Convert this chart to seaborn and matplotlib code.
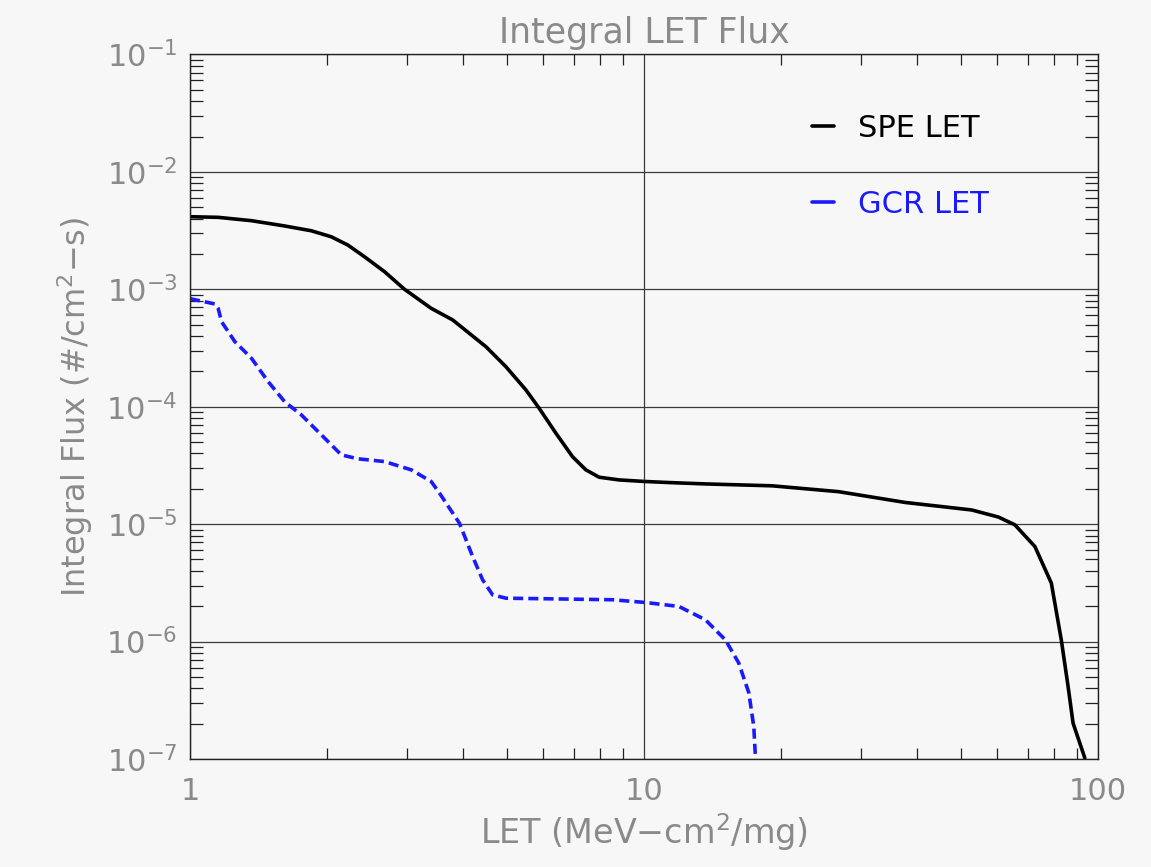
import numpy as np
import pandas as pd
import seaborn as sns
import matplotlib.pyplot as plt
from matplotlib.ticker import FixedLocator, NullFormatter, LogFormatterSciNotation
from matplotlib.lines import Line2D

# ---- data ----
spe_let = [1.0, 1.154, 1.366, 1.618, 1.851, 2.048, 2.228, 2.425, 2.684, 2.969, 3.398,
           3.791, 4.488, 4.966, 5.495, 5.877, 6.397, 6.957, 7.446, 7.964, 8.812, 10.0,
           11.35, 13.66, 19.14, 26.83, 37.6, 52.7, 60.3, 65.6, 72.6, 78.9, 83.0, 85.9,
           88.1, 93.5]
spe_flux = [4.15e-3, 4.1e-3, 3.84e-3, 3.46e-3, 3.15e-3, 2.80e-3, 2.38e-3, 1.89e-3,
            1.41e-3, 1.0e-3, 6.89e-4, 5.48e-4, 3.24e-4, 2.19e-4, 1.39e-4, 9.7e-5, 5.95e-5,
            3.76e-5, 2.90e-5, 2.51e-5, 2.38e-5, 2.31e-5, 2.26e-5, 2.20e-5, 2.12e-5, 1.89e-5,
            1.53e-5, 1.32e-5, 1.15e-5, 9.86e-6, 6.44e-6, 3.15e-6, 1.03e-6, 4.15e-7, 2.02e-7,
            1.02e-7]

gcr_let = [1.0, 1.135, 1.154, 1.174, 1.256, 1.366, 1.486, 1.618, 1.760, 1.980, 2.155,
           2.344, 2.684, 3.072, 3.398, 3.544, 3.922, 4.194, 4.411, 4.641, 4.966, 6.288,
           8.52, 10.09, 11.94, 13.66, 15.12, 16.17, 17.02, 17.45, 17.60]
gcr_flux = [8.32e-4, 7.50e-4, 6.89e-4, 5.30e-4, 3.58e-4, 2.59e-4, 1.64e-4, 1.10e-4,
            8.51e-5, 5.40e-5, 3.89e-5, 3.60e-5, 3.41e-5, 2.90e-5, 2.31e-5, 1.84e-5,
            1.02e-5, 5.30e-6, 3.36e-6, 2.50e-6, 2.34e-6, 2.31e-6, 2.27e-6, 2.15e-6,
            1.99e-6, 1.53e-6, 1.03e-6, 6.56e-7, 3.65e-7, 1.89e-7, 1.02e-7]

series_names = ["SPE LET", "GCR LET"]
x_ticks = [1, 10, 100]
x_ticklabels = ["1", "10", "100"]
y_decades = [-7, -6, -5, -4, -3, -2, -1]

df = pd.concat([
    pd.DataFrame({"LET": spe_let, "flux": spe_flux, "series": series_names[0]}),
    pd.DataFrame({"LET": gcr_let, "flux": gcr_flux, "series": series_names[1]}),
], ignore_index=True)

# ---- style ----
sns.set_theme(style="ticks")
plt.rcParams["font.family"] = ["DejaVu Sans"]
plt.rcParams["mathtext.fontset"] = "dejavusans"
bg = "#f7f7f7"
txt = "#8a8a8a"

fig = plt.figure(figsize=(11.51, 8.67), dpi=100, facecolor=bg)
ax = fig.add_axes([0.165, 0.1246, 0.789, 0.8126])
ax.set_facecolor(bg)

palette = {"SPE LET": "black", "GCR LET": "#1a1aff"}
dashes = {"SPE LET": "", "GCR LET": (2.8, 1.4)}
sns.lineplot(data=df, x="LET", y="flux", hue="series", style="series",
             palette=palette, dashes=dashes, estimator=None, sort=False,
             linewidth=2.6, legend=False, ax=ax)

ax.set_xscale("log")
ax.set_yscale("log")
ax.set_xlim(1, 100)
ax.set_ylim(1e-7, 1e-1)

ax.xaxis.set_major_locator(FixedLocator(x_ticks))
ax.set_xticklabels(x_ticklabels)
x_minor = [m * 10.0 ** d for d in (0, 1) for m in range(2, 10)]
ax.xaxis.set_minor_locator(FixedLocator(x_minor))
ax.xaxis.set_minor_formatter(NullFormatter())

y_major = [10.0 ** d for d in y_decades]
y_minor = [m * 10.0 ** d for d in y_decades[:-1] for m in range(2, 10)]
ax.yaxis.set_major_locator(FixedLocator(y_major))
ax.yaxis.set_major_formatter(LogFormatterSciNotation())
ax.yaxis.set_minor_locator(FixedLocator(y_minor))
ax.yaxis.set_minor_formatter(NullFormatter())

ax.grid(which="major", color="#3a3a3a", linewidth=0.9)
ax.grid(which="minor", visible=False)

ax.tick_params(axis="both", which="major", length=0, labelcolor=txt, labelsize=22)
ax.tick_params(axis="x", which="major", pad=13)
ax.tick_params(axis="y", which="major", pad=9)
ax.tick_params(axis="x", which="minor", direction="in", length=8, width=0.9,
               top=True, bottom=True, color="#222222")
ax.tick_params(axis="y", which="minor", direction="in", length=9.5, width=0.9,
               left=True, right=True, color="#222222")

for s in ax.spines.values():
    s.set_color("#222222")
    s.set_linewidth(1.0)

ax.set_title("Integral LET Flux", color=txt, fontsize=25, pad=8)
ax.set_xlabel("LET (MeV$-$cm$^2$/mg)", color=txt, fontsize=24, labelpad=4)
ax.set_ylabel("Integral Flux (#/cm$^2$$-$s)", color=txt, fontsize=23, labelpad=8)

handles = [Line2D([0], [0], color=palette[n], lw=2.6) for n in series_names]
leg = ax.legend(handles, series_names, loc="upper left", bbox_to_anchor=(0.655, 0.955),
                frameon=False, fontsize=22, handlelength=0.7, handletextpad=0.8,
                labelspacing=1.55)
for t, n in zip(leg.get_texts(), series_names):
    t.set_color(palette[n])

fig.savefig("out.png", dpi=100, facecolor=bg)
